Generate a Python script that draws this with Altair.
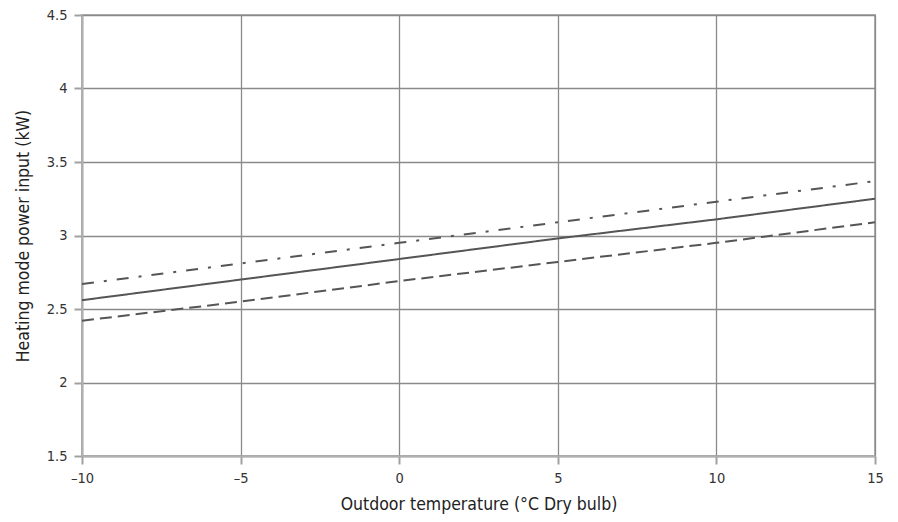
import altair as alt
import pandas as pd

temps = [-10, -5, 0, 5, 10, 15]
solid_vals = [2.56, 2.70, 2.84, 2.98, 3.11, 3.25]
dashdot_vals = [2.67, 2.81, 2.95, 3.09, 3.23, 3.37]
dashed_vals = [2.42, 2.55, 2.69, 2.82, 2.95, 3.09]
series_names = ["solid", "dashdot", "dashed"]

rows = []
for name, vals in zip(series_names, [solid_vals, dashdot_vals, dashed_vals]):
    for t, v in zip(temps, vals):
        rows.append({"temp": t, "power": v, "series": name})
df = pd.DataFrame(rows)

FONT = "DejaVu Sans Condensed, Liberation Sans, sans-serif"

chart = alt.Chart(df).mark_line(color="#555555", strokeWidth=2, clip=True).encode(
    x=alt.X("temp:Q",
            scale=alt.Scale(domain=[-10, 15], nice=False),
            axis=alt.Axis(values=[-10, -5, 0, 5, 10, 15], title="Outdoor temperature (°C Dry bulb)",
                          labelExpr="replace(datum.label, '−', '–')")),
    y=alt.Y("power:Q",
            scale=alt.Scale(domain=[1.5, 4.5], nice=False, zero=False),
            axis=alt.Axis(values=[1.5, 2, 2.5, 3, 3.5, 4, 4.5], format="~g",
                          title="Heating mode power input (kW)")),
    strokeDash=alt.StrokeDash("series:N",
                              scale=alt.Scale(domain=series_names,
                                              range=[[1, 0], [12, 10, 3, 10], [12, 6]]),
                              legend=None),
    detail="series:N",
).properties(
    width=793, height=441,
    autosize=alt.AutoSizeParams(type="none"),
    padding={"left": 74, "top": 7, "right": 15, "bottom": 58},
).configure_axis(
    grid=True, gridColor="#8a8a8a", gridWidth=1.3,
    domainColor="#b0b0b0", domainWidth=2,
    tickColor="#a0a0a0", tickSize=8, tickWidth=2,
    labelFont=FONT, labelFontSize=14.5, labelColor="#333333", labelPadding=7,
    titleFont=FONT, titleFontSize=17.5, titleColor="#222222", titleFontWeight="normal",
).configure_axisX(
    titlePadding=11, labelFlush=False,
).configure_axisY(
    titlePadding=14,
).configure_view(
    stroke="#b0b0b0", strokeWidth=2,
)

chart.save("out.html", embed_options={"renderer": "svg", "actions": False})
